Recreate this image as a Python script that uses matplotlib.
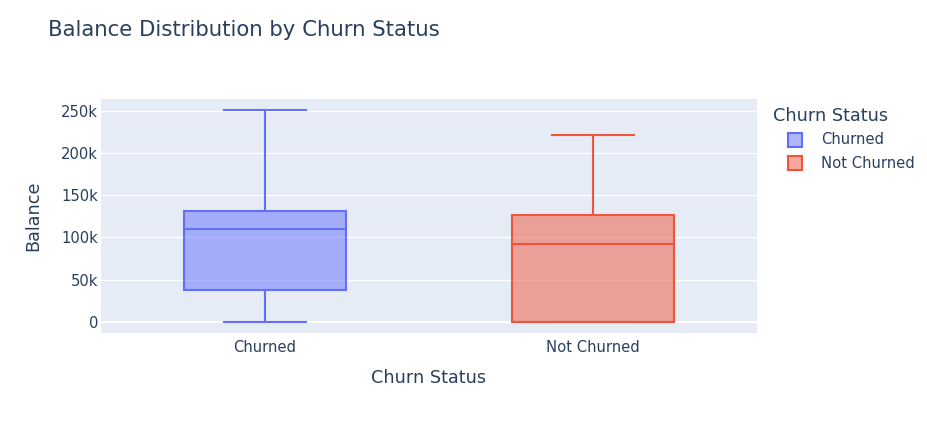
import matplotlib
matplotlib.use("Agg")
import matplotlib.pyplot as plt
from matplotlib.patches import Rectangle

plt.rcParams['font.family'] = ['DejaVu Sans']

categories = ["Churned", "Not Churned"]
whisker_low = [0, 0]
q1 = [37600, 0]
median = [109600, 91800]
q3 = [131300, 126200]
whisker_high = [250900, 221500]
colors = ["#636EFA", "#EF553B"]
yticks = [0, 50000, 100000, 150000, 200000, 250000]
ytick_labels = ["0", "50k", "100k", "150k", "200k", "250k"]

W, H = 928, 428
fig = plt.figure(figsize=(W / 100, H / 100), dpi=100)
L, R, T, B = 101, 757, 99.3, 333.3
ax = fig.add_axes([L / W, 1 - B / H, (R - L) / W, (B - T) / H])
ax.set_facecolor("#E5ECF6")
for s in ax.spines.values():
    s.set_visible(False)

txt = "#2a3f5f"
LW = 1.5
for i, cat in enumerate(categories):
    stats = [dict(med=median[i], q1=q1[i], q3=q3[i], whislo=whisker_low[i],
                  whishi=whisker_high[i], label=cat)]
    c = colors[i]
    ax.bxp(stats, positions=[i], widths=0.494, capwidths=0.247,
           showfliers=False, patch_artist=True,
           boxprops=dict(facecolor=matplotlib.colors.to_rgba(c, 0.5), edgecolor=c, linewidth=LW),
           medianprops=dict(color=c, linewidth=LW),
           whiskerprops=dict(color=c, linewidth=LW),
           capprops=dict(color=c, linewidth=LW), zorder=3)

ax.set_xlim(-0.5, 1.5)
ax.set_ylim(-13800, 263800)
ax.set_xticks(range(len(categories)))
ax.set_xticklabels(categories)
ax.set_yticks(yticks)
ax.set_yticklabels(ytick_labels)
ax.grid(axis="y", color="white", linewidth=1, zorder=0)
ax.set_axisbelow(True)
ax.axhline(0, color="white", linewidth=1.5, zorder=1)
ax.tick_params(axis="both", length=0, labelsize=10.6, labelcolor=txt)
ax.tick_params(axis="y", pad=2)
ax.tick_params(axis="x", pad=5)

fig.text(33 / W, 1 - 216 / H, "Balance", fontsize=12.7, color=txt,
         rotation=90, ha="center", va="center")
fig.text((L + R) / 2 / W, 1 - 378 / H, "Churn Status", fontsize=12.7, color=txt,
         ha="center", va="center")

fig.text(48 / W, 1 - 30 / H, "Balance Distribution by Churn Status", fontsize=15.3,
         color=txt, ha="left", va="center")

# legend
fig.text(773 / W, 1 - 116 / H, "Churn Status", fontsize=12.7, color=txt,
         ha="left", va="center")
for i, cat in enumerate(categories):
    cy = 140 + i * 23.3
    c = colors[i]
    fig.add_artist(Rectangle((788 / W, 1 - (cy + 7) / H), 14 / W, 14 / H,
                             transform=fig.transFigure,
                             facecolor=matplotlib.colors.to_rgba(c, 0.5),
                             edgecolor=c, linewidth=LW))
    fig.text(821 / W, 1 - cy / H, cat, fontsize=10.6, color=txt,
             ha="left", va="center")

fig.savefig("out.png", dpi=100)
